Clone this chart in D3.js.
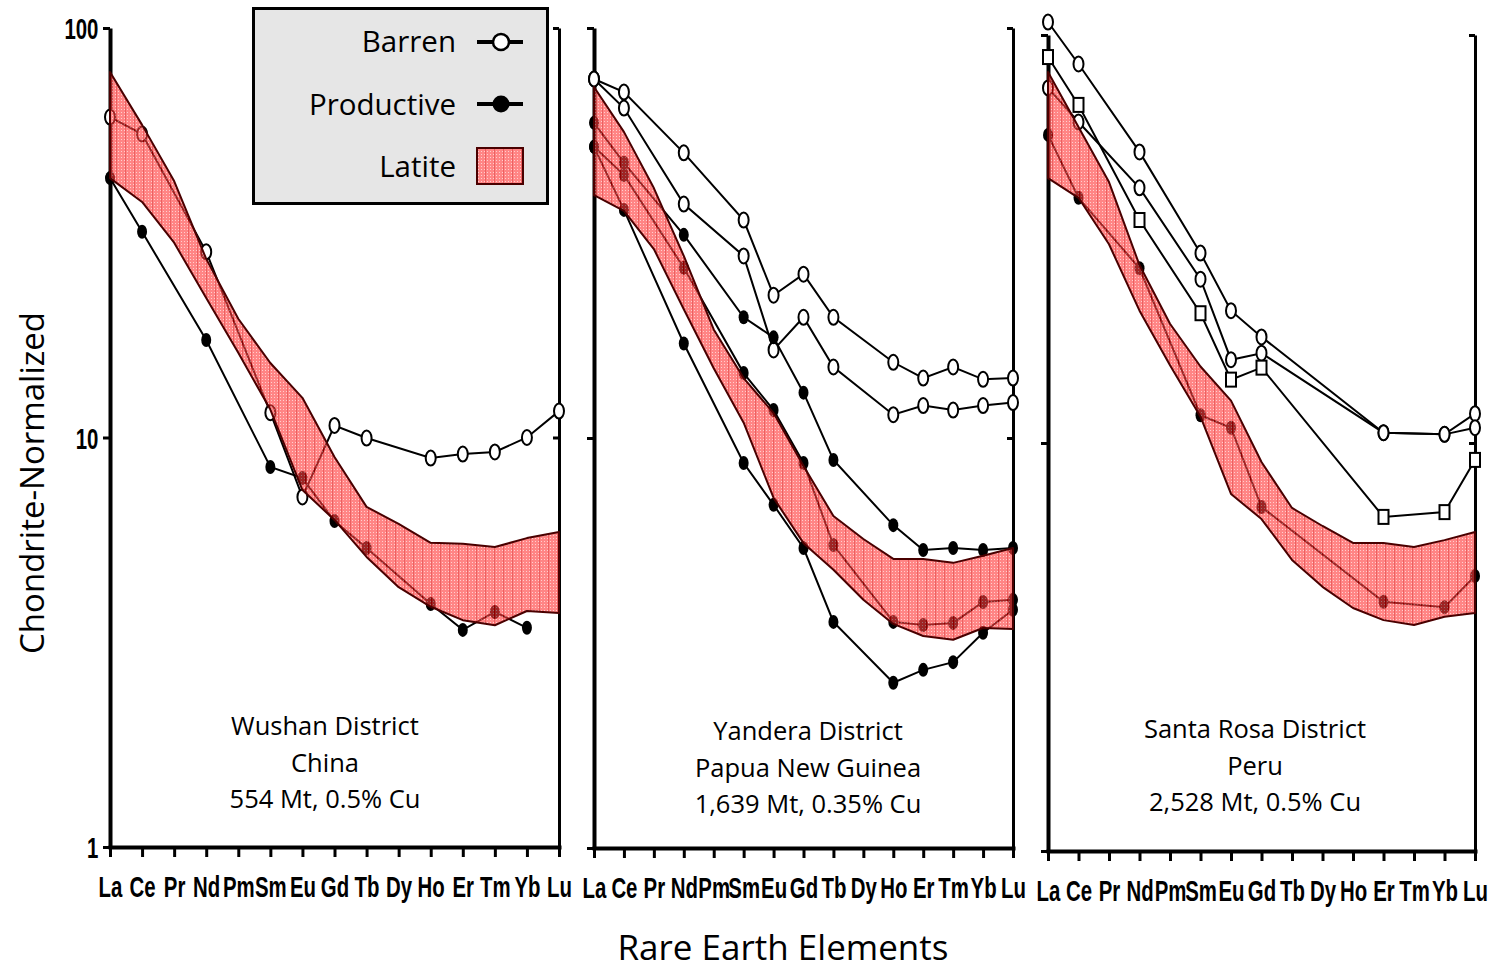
<!DOCTYPE html>
<html><head><meta charset="utf-8">
<script src="https://cdn.jsdelivr.net/npm/d3@7"></script>
<style>body{margin:0;background:#fff}</style>
</head><body>
<svg id="chart" width="1505" height="972"></svg>
<script>
const elements = ["La","Ce","Pr","Nd","Pm","Sm","Eu","Gd","Tb","Dy","Ho","Er","Tm","Yb","Lu"];
const yTickValues = [1, 10, 100];
const yTickLabels = ["1", "10", "100"];

// Wushan District, China
const wushanBarren      = [60.6,55.1,null,28.4,null,11.5,7.16,10.7,9.97,null,8.91,9.11,9.22,10.0,11.6];
const wushanProductive  = [43.0,31.8,null,17.3,null,8.47,7.96,6.25,5.37,null,3.92,3.39,3.75,3.43,null];
const wushanLatiteUpper = [78.1,58.0,42.3,27.3,19.5,15.2,12.5,8.96,6.77,6.15,5.53,5.50,5.40,5.68,5.88];
const wushanLatiteLower = [43.0,37.6,29.9,21.9,16.1,11.7,7.44,6.29,5.11,4.31,3.86,3.58,3.48,3.77,3.73];
const wushanText = ["Wushan District","China","554 Mt, 0.5% Cu"];

// Yandera District, Papua New Guinea
const yanderaBarrenA      = [75.1,69.8,null,49.6,null,34.0,22.3,25.1,19.7,null,15.3,14.0,14.9,13.9,14.0];
const yanderaBarrenB      = [75.1,63.8,null,37.2,null,27.8,16.4,19.7,14.9,null,11.4,12.0,11.7,12.0,12.2];
const yanderaProductive1  = [58.7,46.9,null,31.3,null,19.7,17.6,12.9,8.84,null,6.13,5.33,5.39,5.33,5.39];
const yanderaProductive2  = [51.3,43.8,null,26.0,null,14.4,11.7,8.69,5.48,null,3.56,3.50,3.54,3.98,4.03];
const yanderaProductive3  = [51.3,36.0,null,17.0,null,8.69,6.87,5.39,3.56,null,2.53,2.72,2.84,3.35,3.81];
const yanderaLatiteUpper  = [71.8,55.8,40.7,27.8,18.4,14.0,11.5,8.55,6.45,5.67,5.07,5.07,4.96,5.16,5.39];
const yanderaLatiteLower  = [39.1,35.8,28.9,20.6,14.8,10.9,7.14,5.54,4.77,4.03,3.52,3.29,3.22,3.44,3.42];
const yanderaText = ["Yandera District","Papua New Guinea","1,639 Mt, 0.35% Cu"];

// Santa Rosa District, Peru
const santaRosaBarrenA      = [107.6,84.9,null,51.7,null,29.2,21.1,18.2,null,null,null,10.6,null,10.5,11.8];
const santaRosaBarrenB      = [74.2,61.2,null,42.2,null,25.2,16.0,16.6,null,null,null,10.6,null,10.5,10.9];
const santaRosaBarrenSquare = [88.3,67.4,null,35.2,null,20.8,14.3,15.3,null,null,null,6.59,null,6.77,9.09];
const santaRosaProductive   = [56.9,39.9,null,26.8,null,11.7,10.9,6.97,null,null,null,4.08,null,3.96,4.72];
const santaRosaLatiteUpper  = [81.2,59.5,43.6,27.3,19.6,15.4,12.7,8.98,6.93,6.26,5.69,5.69,5.56,5.78,6.05];
const santaRosaLatiteLower  = [44.6,39.9,30.7,21.1,15.5,11.6,7.50,6.51,5.17,4.44,3.94,3.68,3.58,3.75,3.83];
const santaRosaText = ["Santa Rosa District","Peru","2,528 Mt, 0.5% Cu"];

const legendLabels = ["Barren","Productive","Latite"];
const yTitle = "Chondrite-Normalized";
const xTitle = "Rare Earth Elements";

const panels = [
  {x0:110, x1:559, yb:847, yt:28, labels:true, circles:[wushanBarren], squares:[], filled:[wushanProductive],
   up:wushanLatiteUpper, lo:wushanLatiteLower, text:wushanText, tx:325, ty:735},
  {x0:594, x1:1013, yb:848, yt:28, labels:false, circles:[yanderaBarrenA, yanderaBarrenB], squares:[],
   filled:[yanderaProductive1, yanderaProductive2, yanderaProductive3],
   up:yanderaLatiteUpper, lo:yanderaLatiteLower, text:yanderaText, tx:808, ty:740},
  {x0:1048, x1:1475, yb:851, yt:35, labels:false, circles:[santaRosaBarrenA, santaRosaBarrenB], squares:[santaRosaBarrenSquare],
   filled:[santaRosaProductive], up:santaRosaLatiteUpper, lo:santaRosaLatiteLower, text:santaRosaText, tx:1255, ty:738}
];

const svg = d3.select("#chart");
const defs = svg.append("defs");
const pat = defs.append("pattern").attr("id","latite").attr("patternUnits","userSpaceOnUse")
  .attr("width",9).attr("height",3);
pat.append("rect").attr("width",9).attr("height",3).attr("fill","#ff3a3a");
[1,4,7].forEach(px => pat.append("rect").attr("x",px).attr("y",1).attr("width",1).attr("height",1)
  .attr("fill","#fff").attr("opacity",0.6));
pat.append("rect").attr("x",8).attr("y",0).attr("width",1).attr("height",3).attr("fill","#e00000");

const tickFont = "Liberation Sans, Arial, sans-serif";
const textFont = "Open Sans, Noto Sans, sans-serif";

panels.forEach(p => {
  const x = d3.scalePoint().domain(elements).range([p.x0, p.x1]);
  const y = d3.scaleLog().domain([1, 100]).range([p.yb, p.yt]);
  const g = svg.append("g");

  // bottom axis
  const gx = g.append("g").attr("transform", `translate(0,${p.yb})`)
    .call(d3.axisBottom(x).tickSize(10).tickSizeOuter(0).tickPadding(19));
  gx.select(".domain").attr("stroke","#000").attr("stroke-width",4).attr("stroke-linecap","square");
  gx.selectAll(".tick line").attr("stroke","#000").attr("stroke-width",3);
  gx.selectAll(".tick text").attr("font-family",tickFont).attr("font-weight","bold")
    .attr("font-size",30).attr("fill","#000").attr("transform","scale(0.68,1)");

  // left axis
  const gl = g.append("g").attr("transform", `translate(${p.x0},0)`)
    .call(d3.axisLeft(y).tickValues(yTickValues).tickSize(7).tickSizeOuter(0)
      .tickFormat((d,i) => p.labels ? yTickLabels[i] : ""));
  gl.select(".domain").attr("stroke","#000").attr("stroke-width",4);
  gl.selectAll(".tick line").attr("stroke","#000").attr("stroke-width",3);
  gl.selectAll(".tick text").attr("font-family",tickFont).attr("font-weight","bold")
    .attr("font-size",30).attr("fill","#000").attr("x",-17).attr("dy","0.36em")
    .attr("transform","scale(0.68,1)");

  // right axis
  const gr = g.append("g").attr("transform", `translate(${p.x1},0)`)
    .call(d3.axisLeft(y).tickValues(yTickValues).tickSize(6).tickSizeOuter(0).tickFormat(""));
  gr.select(".domain").attr("stroke","#000").attr("stroke-width",3);
  gr.selectAll(".tick line").attr("stroke","#000").attr("stroke-width",3);

  const line = d3.line().x(d => x(d.el)).y(d => y(d.v));
  const pts = arr => elements.map((el,i) => ({el, v:arr[i]})).filter(d => d.v != null);

  const allSeries = [...p.circles, ...p.squares, ...p.filled];
  allSeries.forEach(s => {
    g.append("path").attr("d", line(pts(s))).attr("fill","none").attr("stroke","#000").attr("stroke-width",2);
  });
  p.circles.forEach(s => {
    g.selectAll(null).data(pts(s)).enter().append("ellipse")
      .attr("cx", d => x(d.el)).attr("cy", d => y(d.v)).attr("rx",5).attr("ry",7.5)
      .attr("fill","#fff").attr("stroke","#000").attr("stroke-width",2);
  });
  p.squares.forEach(s => {
    g.selectAll(null).data(pts(s)).enter().append("rect")
      .attr("x", d => x(d.el) - 5).attr("y", d => y(d.v) - 7).attr("width",10).attr("height",14)
      .attr("fill","#fff").attr("stroke","#000").attr("stroke-width",2);
  });
  p.filled.forEach(s => {
    g.selectAll(null).data(pts(s)).enter().append("ellipse")
      .attr("cx", d => x(d.el)).attr("cy", d => y(d.v)).attr("rx",5).attr("ry",7)
      .attr("fill","#000");
  });

  // latite band
  const bandData = elements.map((el,i) => ({el, hi:p.up[i], lo:p.lo[i]}));
  const area = d3.area().x(d => x(d.el)).y0(d => y(d.lo)).y1(d => y(d.hi));
  g.append("path").attr("d", area(bandData)).attr("fill","url(#latite)").attr("fill-opacity",0.62)
    .attr("stroke","#4a0000").attr("stroke-width",2).attr("stroke-linejoin","round");

  // annotation
  p.text.forEach((t,i) => {
    g.append("text").attr("x", p.tx).attr("y", p.ty + i*36.5).attr("text-anchor","middle")
      .attr("font-family",textFont).attr("font-size",25.5).attr("fill","#000").text(t);
  });
});

// axis titles
svg.append("text").attr("transform","translate(44,483) rotate(-90)").attr("text-anchor","middle")
  .attr("font-family",textFont).attr("font-size",33).attr("fill","#000").text(yTitle);
svg.append("text").attr("x",783).attr("y",960).attr("text-anchor","middle")
  .attr("font-family",textFont).attr("font-size",35).attr("fill","#000").text(xTitle);

// legend
const lg = svg.append("g");
lg.append("rect").attr("x",253.5).attr("y",8.5).attr("width",294).attr("height",195)
  .attr("fill","#e6e6e6").attr("stroke","#000").attr("stroke-width",3);
const legY = [52, 115, 177];
legendLabels.forEach((t,i) => {
  lg.append("text").attr("x",456).attr("y",legY[i]).attr("text-anchor","end")
    .attr("font-family",textFont).attr("font-size",29.5).attr("fill","#000").text(t);
});
lg.append("line").attr("x1",477).attr("x2",523).attr("y1",42).attr("y2",42).attr("stroke","#000").attr("stroke-width",4);
lg.append("circle").attr("cx",501).attr("cy",42).attr("r",8).attr("fill","#fff").attr("stroke","#000").attr("stroke-width",2.5);
lg.append("line").attr("x1",477).attr("x2",523).attr("y1",104).attr("y2",104).attr("stroke","#000").attr("stroke-width",4);
lg.append("circle").attr("cx",501).attr("cy",104).attr("r",8.5).attr("fill","#000");
lg.append("rect").attr("x",477).attr("y",148).attr("width",46).attr("height",36).attr("fill","#fff");
lg.append("rect").attr("x",477).attr("y",148).attr("width",46).attr("height",36)
  .attr("fill","url(#latite)").attr("fill-opacity",0.62).attr("stroke","#4a0000").attr("stroke-width",2);
</script>
</body></html>
